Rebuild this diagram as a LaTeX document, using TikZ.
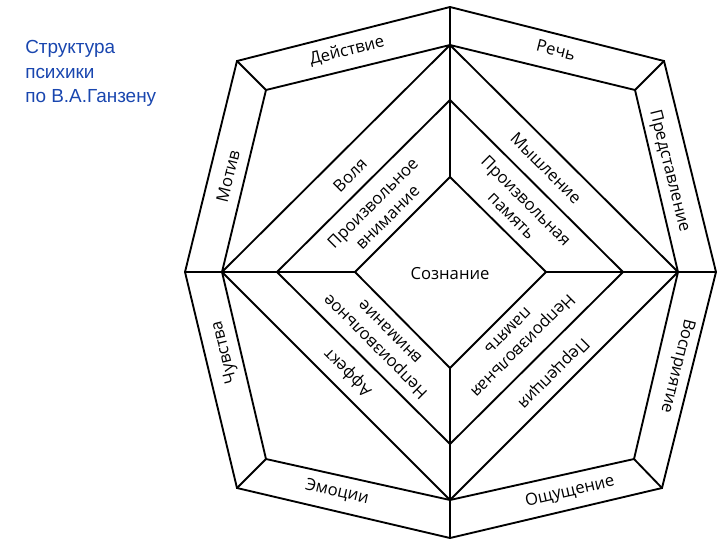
\documentclass[tikz,border=0pt]{standalone}
\usepackage{fontspec}
\newfontfamily\titlefont{Liberation Sans}
\newfontfamily\labelfont{Open Sans}
\definecolor{titleblue}{RGB}{25,70,175}
\tikzset{
  frame/.style={line width=1.4pt, line join=miter},
  lbl/.style={font=\labelfont\fontsize{12.5}{15.5}\selectfont, align=center, inner sep=0pt},
}

\begin{document}
\begin{tikzpicture}[x=0.75pt,y=-0.75pt]
\useasboundingbox (0,0) rectangle (720,540);

% Title
\node[anchor=north west, align=left, inner sep=0pt, text=titleblue,
  font=\titlefont\fontsize{14.2}{18.5}\selectfont] (title) at (25,40)
  {Структура\\психики\\по В.А.Ганзену};

% Outer octagon
\coordinate (o1) at (450,7);
\coordinate (o2) at (664,61);
\coordinate (o3) at (716,272);
\coordinate (o4) at (662,488);
\coordinate (o5) at (450,538);
\coordinate (o6) at (237,488);
\coordinate (o7) at (185,272);
\coordinate (o8) at (237,61);
\draw[frame] (o1) -- (o2) -- (o3) -- (o4) -- (o5) -- (o6) -- (o7) -- (o8) -- cycle;

% Inner octagon
\coordinate (i1) at (450,45);
\coordinate (i2) at (635,90);
\coordinate (i3) at (678,272);
\coordinate (i4) at (634,459);
\coordinate (i5) at (450,500);
\coordinate (i6) at (266,459);
\coordinate (i7) at (222,272);
\coordinate (i8) at (266,90);
\draw[frame] (i1) -- (i2) -- (i3) -- (i4) -- (i5) -- (i6) -- (i7) -- (i8) -- cycle;

% Corner links
\draw[frame] (o2) -- (i2);
\draw[frame] (o4) -- (i4);
\draw[frame] (o6) -- (i6);
\draw[frame] (o8) -- (i8);

% Diamonds
\coordinate (d1) at (450,100);
\coordinate (d2) at (623,272);
\coordinate (d3) at (450,444);
\coordinate (d4) at (277,272);
\coordinate (c1) at (450,177);
\coordinate (c2) at (546,272);
\coordinate (c3) at (450,368);
\coordinate (c4) at (355,272);
\draw[frame] (i1) -- (i3) -- (i5) -- (i7) -- cycle;
\draw[frame] (d1) -- (d2) -- (d3) -- (d4) -- cycle;
\draw[frame] (c1) -- (c2) -- (c3) -- (c4) -- cycle;

% Axes
\draw[frame] (o1) -- (c1);
\draw[frame] (o3) -- (c2);
\draw[frame] (o5) -- (c3);
\draw[frame] (o7) -- (c4);

% Outer band labels
\node[lbl, rotate=14] (action) at (347,51) {Действие};
\node[lbl, rotate=-14] (speech) at (556,50) {Речь};
\node[lbl, rotate=-76] (idea) at (669,171) {Представление};
\node[lbl, rotate=-104] (percept) at (677,366) {Восприятие};
\node[lbl, rotate=13] (sense) at (570,492) {Ощущение};
\node[lbl, rotate=-13] (emotion) at (337,492) {Эмоции};
\node[lbl, rotate=104] (feeling) at (225,352) {Чувства};
\node[lbl, rotate=76] (motive) at (228,176) {Мотив};

% Diamond labels
\node[lbl, rotate=45] (will) at (350,175) {Воля};
\node[lbl, rotate=-45] (thought) at (546,168) {Мышление};
\node[lbl, rotate=135] (affect) at (348,372) {Аффект};
\node[lbl, rotate=225] (perception) at (553,373) {Перцепция};
\node[lbl, rotate=45] (volatt) at (380,210) {Произвольное\\внимание};
\node[lbl, rotate=-45] (volmem) at (519,208) {Произвольная\\память};
\node[lbl, rotate=135] (invatt) at (382,340) {Непроизвольное\\внимание};
\node[lbl, rotate=225] (invmem) at (516,339) {Непроизвольная\\память};

% Centre
\node[lbl] (mind) at (450,274) {Сознание};
\end{tikzpicture}
\end{document}
